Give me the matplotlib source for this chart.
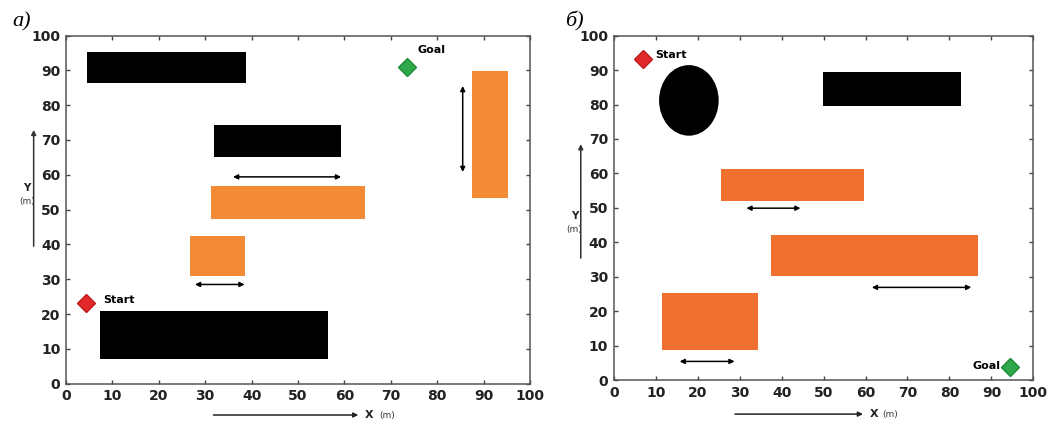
import matplotlib.pyplot as plt
from matplotlib.patches import Rectangle, Ellipse

# panel a) obstacles: (x, y, width, height)
a_black = [(4.5, 86.3, 34.3, 9.0), (31.9, 65.0, 27.4, 9.3), (7.4, 7.2, 49.1, 13.7)]
a_orange = [(31.2, 47.3, 33.3, 9.4), (26.8, 30.9, 11.7, 11.4), (87.4, 53.4, 7.9, 36.4)]
# moving directions: (x0, y0, x1, y1)
a_arrows = [(36.0, 59.4, 59.3, 59.4), (27.8, 28.5, 38.5, 28.5), (85.5, 60.8, 85.5, 85.5)]
a_start = (4.4, 23.2)
a_goal = (73.4, 90.9)

# panel б) obstacles
b_circle = (17.9, 81.2, 14.2, 20.5)
b_black = [(49.8, 79.5, 33.0, 10.0)]
b_orange = [(25.5, 52.1, 34.1, 9.2), (37.5, 30.1, 49.3, 12.1), (11.5, 8.7, 22.8, 16.7)]
b_arrows = [(31.6, 49.9, 44.5, 49.9), (61.5, 26.9, 85.2, 26.9), (15.7, 5.4, 28.8, 5.4)]
b_start = (7.0, 93.3)
b_goal = (94.5, 3.7)

ticks = list(range(0, 101, 10))

fig = plt.figure(figsize=(10.47, 4.22), dpi=100)
ax1 = fig.add_axes([0.0630, 0.0908, 0.4432, 0.825])
ax2 = fig.add_axes([0.5862, 0.0995, 0.4008, 0.816])


def setup(ax):
    ax.set_xlim(0, 100)
    ax.set_ylim(0, 100)
    ax.set_xticks(ticks)
    ax.set_yticks(ticks)
    ax.tick_params(direction='in', length=3, width=1, top=True, right=True,
                   colors='#444', labelcolor='#222', labelsize=10, pad=4)
    for lab in ax.get_xticklabels() + ax.get_yticklabels():
        lab.set_fontweight('bold')
    for s in ax.spines.values():
        s.set_color('#555')
        s.set_linewidth(1.1)


def draw_arrows(ax, arrows):
    for x0, y0, x1, y1 in arrows:
        ax.annotate('', xy=(x1, y1), xytext=(x0, y0),
                    arrowprops=dict(arrowstyle='<|-|>', color='black', lw=1.1,
                                    mutation_scale=7, shrinkA=0, shrinkB=0))


def axis_labels(ax, yx, y0, y1, ytext, ymtext, x0, x1, xy_):
    ax.annotate('', xy=(yx, y1), xytext=(yx, y0), xycoords='axes fraction',
                arrowprops=dict(arrowstyle='-|>', color='#333', lw=1.1,
                                mutation_scale=7, shrinkA=0, shrinkB=0),
                annotation_clip=False)
    ax.text(yx - 0.015, ytext, 'Y', transform=ax.transAxes, ha='center', va='center',
            fontsize=7.5, fontweight='bold', color='#222')
    ax.text(yx - 0.015, ymtext, '(m)', transform=ax.transAxes, ha='center', va='center',
            fontsize=6.5, color='#333')
    ax.annotate('', xy=(x1, xy_), xytext=(x0, xy_), xycoords='axes fraction',
                arrowprops=dict(arrowstyle='-|>', color='#222', lw=1.1,
                                mutation_scale=7, shrinkA=0, shrinkB=0),
                annotation_clip=False)
    ax.text(x1 + 0.015, xy_, 'X', transform=ax.transAxes, ha='left', va='center',
            fontsize=8, fontweight='bold', color='#222')
    ax.text(x1 + 0.045, xy_, '(m)', transform=ax.transAxes, ha='left', va='center',
            fontsize=6.5, color='#333')


# ---- panel a)
setup(ax1)
for x, y, w, h in a_black:
    ax1.add_patch(Rectangle((x, y), w, h, facecolor='black', edgecolor='none'))
for x, y, w, h in a_orange:
    ax1.add_patch(Rectangle((x, y), w, h, facecolor='#F28A36', edgecolor='none'))
draw_arrows(ax1, a_arrows)
ax1.plot(*a_start, marker='D', ms=9, color='#E1282B', mec='#c01818')
ax1.plot(*a_goal, marker='D', ms=9, color='#2EA84A', mec='#1f8a35')
ax1.text(a_start[0] + 3.6, a_start[1] + 0.7, 'Start', fontsize=8, fontweight='bold', va='center')
ax1.text(a_goal[0] + 2.4, a_goal[1] + 4.9, 'Goal', fontsize=8, fontweight='bold', va='center')
axis_labels(ax1, -0.0696, 0.395, 0.729, 0.562, 0.524, 0.318, 0.630, -0.090)
ax1.text(-0.115, 1.012, 'а)', transform=ax1.transAxes, fontsize=16, fontstyle='italic',
         family='Liberation Serif', va='bottom', ha='left')

# ---- panel б)
setup(ax2)
cx, cy, cw, ch = b_circle
ax2.add_patch(Ellipse((cx, cy), cw, ch, facecolor='black', edgecolor='none'))
for x, y, w, h in b_black:
    ax2.add_patch(Rectangle((x, y), w, h, facecolor='black', edgecolor='none'))
for x, y, w, h in b_orange:
    ax2.add_patch(Rectangle((x, y), w, h, facecolor='#F07030', edgecolor='none'))
draw_arrows(ax2, b_arrows)
ax2.plot(*b_start, marker='D', ms=9, color='#E1282B', mec='#c01818')
ax2.plot(*b_goal, marker='D', ms=9, color='#2EA84A', mec='#1f8a35')
ax2.text(b_start[0] + 2.8, b_start[1] + 1.0, 'Start', fontsize=8, fontweight='bold', va='center')
ax2.text(b_goal[0] - 2.4, b_goal[1] + 0.5, 'Goal', fontsize=8, fontweight='bold',
         va='center', ha='right')
axis_labels(ax2, -0.0786, 0.354, 0.685, 0.476, 0.436, 0.289, 0.594, -0.099)
ax2.text(-0.115, 1.012, 'б)', transform=ax2.transAxes, fontsize=16, fontstyle='italic',
         family='Liberation Serif', va='bottom', ha='left')

fig.savefig('out.png', dpi=100)
